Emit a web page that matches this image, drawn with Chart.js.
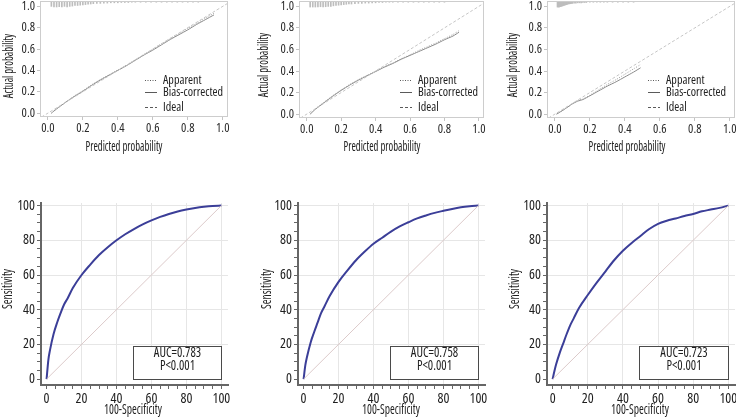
<!DOCTYPE html>
<html>
<head>
<meta charset="utf-8">
<script src="https://cdn.jsdelivr.net/npm/chart.js@4.4.1/dist/chart.umd.min.js"></script>
<style>
  body { margin: 0; background: #fff; width: 736px; height: 418px; position: relative; overflow: hidden; }
  canvas { position: absolute; }
</style>
</head>
<body>
<canvas id="cal1" width="245" height="160" style="left:0;top:0"></canvas>
<canvas id="cal2" width="245" height="160" style="left:245px;top:0"></canvas>
<canvas id="cal3" width="246" height="160" style="left:490px;top:0"></canvas>
<canvas id="roc1" width="245" height="228" style="left:0;top:190px"></canvas>
<canvas id="roc2" width="245" height="228" style="left:245px;top:190px"></canvas>
<canvas id="roc3" width="246" height="228" style="left:490px;top:190px"></canvas>
<script>
// ---- calibration curves (top row) ----
const calTicks = [0, 0.2, 0.4, 0.6, 0.8, 1.0];
const calLegend = ['Apparent', 'Bias-corrected', 'Ideal'];
const calTitles = ['Predicted probability', 'Actual probability'];
const idealLine = [-0.06, 1.07];

const cal1X = [0.02, 0.05, 0.1, 0.15, 0.2, 0.25, 0.3, 0.35, 0.4, 0.45, 0.5, 0.55, 0.6, 0.65, 0.7, 0.75, 0.8, 0.85, 0.9, 0.95];
const app1Y = [0.0, 0.04, 0.1, 0.16, 0.21, 0.265, 0.315, 0.36, 0.405, 0.45, 0.5, 0.55, 0.6, 0.65, 0.7, 0.745, 0.795, 0.84, 0.89, 0.935];
const bc1Y  = [0.0, 0.04, 0.1, 0.155, 0.205, 0.26, 0.31, 0.355, 0.4, 0.445, 0.495, 0.545, 0.59, 0.64, 0.69, 0.735, 0.78, 0.83, 0.875, 0.92];

const cal2X = [0.02, 0.05, 0.1, 0.15, 0.2, 0.25, 0.3, 0.35, 0.4, 0.45, 0.5, 0.55, 0.6, 0.65, 0.7, 0.75, 0.8, 0.85, 0.885];
const app2Y = [0.0, 0.05, 0.11, 0.17, 0.225, 0.275, 0.32, 0.36, 0.4, 0.44, 0.475, 0.515, 0.55, 0.59, 0.625, 0.66, 0.7, 0.74, 0.775];
const bc2Y  = [0.0, 0.045, 0.105, 0.165, 0.22, 0.27, 0.315, 0.355, 0.395, 0.435, 0.47, 0.51, 0.545, 0.58, 0.615, 0.65, 0.69, 0.725, 0.76];

const cal3X = [0.01, 0.05, 0.1, 0.13, 0.16, 0.2, 0.25, 0.3, 0.35, 0.4, 0.45, 0.49];
const app3Y = [0.0, 0.04, 0.095, 0.125, 0.14, 0.175, 0.225, 0.275, 0.32, 0.37, 0.42, 0.46];
const bc3Y  = [0.0, 0.04, 0.095, 0.12, 0.135, 0.17, 0.215, 0.26, 0.3, 0.345, 0.39, 0.43];

// spike histogram of predicted risks along the top (relative heights)
const rug1X = [0.020, 0.035, 0.050, 0.065, 0.080, 0.095, 0.110, 0.125, 0.140, 0.155, 0.170, 0.185, 0.200, 0.215, 0.230, 0.245, 0.260,
  0.28, 0.30, 0.32, 0.34, 0.36, 0.38, 0.40, 0.42, 0.44, 0.46, 0.48, 0.50,
  0.53, 0.56, 0.59, 0.62, 0.65, 0.68, 0.71, 0.74, 0.77, 0.80, 0.83, 0.86];
const rug1H = [0.9, 1, 1, 0.95, 1, 0.9, 1, 0.9, 0.85, 0.75, 0.75, 0.7, 0.65, 0.6, 0.55, 0.5, 0.45,
  0.4, 0.4, 0.35, 0.35, 0.3, 0.3, 0.3, 0.25, 0.25, 0.25, 0.2, 0.2,
  0.2, 0.2, 0.2, 0.2, 0.2, 0.2, 0.2, 0.2, 0.2, 0.2, 0.2, 0.2];

const rug2X = [0.020, 0.035, 0.050, 0.065, 0.080, 0.095, 0.110, 0.125, 0.140, 0.155, 0.170, 0.185, 0.200, 0.215, 0.230, 0.245, 0.260,
  0.28, 0.30, 0.32, 0.34, 0.36, 0.38, 0.40, 0.42, 0.44, 0.46, 0.48, 0.50,
  0.53, 0.56, 0.59, 0.62, 0.65, 0.68, 0.71, 0.74, 0.77, 0.80];
const rug2H = [1, 1, 1, 1, 0.95, 1, 0.95, 0.9, 0.9, 0.8, 0.75, 0.7, 0.65, 0.6, 0.55, 0.5, 0.5,
  0.45, 0.4, 0.4, 0.35, 0.35, 0.3, 0.3, 0.25, 0.25, 0.2, 0.2, 0.2,
  0.2, 0.2, 0.2, 0.2, 0.2, 0.2, 0.2, 0.2, 0.2, 0.2];

const rug3X = [0.015, 0.02, 0.025, 0.03, 0.035, 0.04, 0.045, 0.05, 0.055, 0.06, 0.065, 0.07, 0.075, 0.08, 0.085, 0.09, 0.095, 0.10,
  0.11, 0.12, 0.13, 0.14, 0.15, 0.16, 0.17, 0.18,
  0.20, 0.22, 0.24, 0.26, 0.28, 0.30,
  0.33, 0.36, 0.39, 0.42, 0.45];
const rug3H = [1, 1, 1, 0.95, 0.9, 0.85, 0.8, 0.75, 0.7, 0.65, 0.6, 0.55, 0.5, 0.5, 0.45, 0.45, 0.4, 0.4,
  0.35, 0.35, 0.3, 0.3, 0.3, 0.25, 0.25, 0.25,
  0.2, 0.2, 0.2, 0.2, 0.2, 0.2,
  0.2, 0.2, 0.2, 0.2, 0.2];

// ---- ROC curves (bottom row) ----
const rocTicks = [0, 5, 10, 15, 20, 25, 30, 35, 40, 45, 50, 55, 60, 65, 70, 75, 80, 85, 90, 95, 100];
const rocLabels = [0, 20, 40, 60, 80, 100];
const rocGrid = [20, 40, 60, 80, 100];
const rocTitles = ['100-Specificity', 'Sensitivity'];
const chanceLine = [0, 100];
const rocFpr = [0, 1, 2, 4, 6, 8, 10, 12, 15, 20, 25, 30, 35, 40, 45, 50, 55, 60, 65, 70, 75, 80, 85, 90, 95, 100];
const roc1Y = [0, 11, 17, 26, 32.5, 38, 43, 46.5, 52.5, 60, 66, 71.5, 76, 80, 83.5, 86.5, 89.2, 91.5, 93.5, 95.2, 96.6, 97.7, 98.6, 99.3, 99.8, 100];
const roc2Y = [0, 8, 13, 21, 27, 32.5, 38, 42, 48, 56, 62.5, 68.5, 73.5, 78, 81.5, 85, 88, 90.4, 92.6, 94.3, 95.8, 97, 98.1, 99, 99.6, 100];
const roc3Y = [0, 4.5, 8.5, 15, 20.5, 26, 31, 35, 41, 48.5, 55.5, 62, 68.5, 74, 78.5, 82.5, 86.5, 89.5, 91.3, 92.6, 94, 95.2, 96.7, 97.7, 98.7, 100];
const aucText = [['AUC=0.783', 'P<0.001'], ['AUC=0.758', 'P<0.001'], ['AUC=0.723', 'P<0.001']];
const aucBox = { x: [49.4, 100], y: [0, 19.3] };

// Open Sans in its condensed width stands in for the narrow font of the original
const FAM = "'Open Sans', 'DejaVu Sans Condensed', sans-serif";
const STRETCH = 'normal condensed';
Chart.defaults.font.family = FAM;
Chart.defaults.font.weight = STRETCH;
Chart.defaults.color = '#1e1e1e';
const fontStr = size => STRETCH + ' ' + size + 'px ' + FAM;

const noPad = s => { s.paddingTop = 0; s.paddingBottom = 0; s.paddingLeft = 0; s.paddingRight = 0; };

// text with optional horizontal squeeze (sx) and vertical orientation
function text(ctx, str, x, y, size, sx, rotate) {
  ctx.save();
  ctx.font = fontStr(size);
  ctx.translate(x, y);
  if (rotate) ctx.rotate(-Math.PI / 2);
  ctx.scale(sx, 1);
  ctx.fillText(str, 0, 0);
  ctx.restore();
}

function calDeco(look) {
  const dashes = [[1, 1.5], [], [3, 2]];
  return {
    id: 'calDeco',
    afterDraw(chart) {
      const { ctx, chartArea: a } = chart;
      ctx.save();
      ctx.strokeStyle = '#cdcdcd';
      ctx.lineWidth = 1;
      ctx.strokeRect(Math.round(a.left) + 0.5, Math.round(a.top) + 0.5,
        Math.round(a.right - a.left) - 1, Math.round(a.bottom - a.top) - 1);

      ctx.fillStyle = '#222';
      ctx.textBaseline = 'middle';
      ctx.textAlign = 'left';
      calLegend.forEach((name, i) => {
        const y = Math.round(a.top + look.rows[i]) + 0.5;
        ctx.strokeStyle = '#5a5a5a';
        ctx.setLineDash(dashes[i]);
        ctx.beginPath();
        ctx.moveTo(look.legX, y);
        ctx.lineTo(look.legX + 12, y);
        ctx.stroke();
        ctx.setLineDash([]);
        text(ctx, name, look.legX + 18, y, 13, 0.93);
      });

      ctx.textAlign = 'center';
      text(ctx, calTitles[0], look.xTitle[0], look.xTitle[1], 14, 0.76);
      text(ctx, calTitles[1], look.yTitle[0], look.yTitle[1], 14, 0.76, true);
      ctx.restore();
    }
  };
}

function calChart(id, rugX, rugH, xs, appY, bcY, look) {
  const top = 1.05;
  new Chart(document.getElementById(id), {
    type: 'line',
    data: {
      datasets: [
        { type: 'bar', data: rugX.map((x, i) => ({ x: x, y: [top - rugH[i] * 0.056, top] })),
          backgroundColor: '#bdbdbd', barThickness: 1, grouped: false, borderWidth: 0 },
        { data: idealLine.map(v => ({ x: v, y: v })), borderColor: '#c6c6c6', borderWidth: 1, borderDash: [3, 2] },
        { data: xs.map((x, i) => ({ x: x, y: appY[i] })), borderColor: '#a0a0a0', borderWidth: 1, borderDash: [1, 1.5] },
        { data: xs.map((x, i) => ({ x: x, y: bcY[i] })), borderColor: '#8a8a8a', borderWidth: 1 }
      ]
    },
    options: {
      responsive: false,
      devicePixelRatio: 1,
      animation: false,
      layout: { padding: { left: 0, right: look.padR, top: 1, bottom: 0 } },
      elements: { point: { radius: 0 }, line: { tension: 0.2 } },
      plugins: { legend: { display: false }, tooltip: { enabled: false } },
      scales: {
        x: {
          type: 'linear', min: -0.045, max: 1.03, offset: false,
          afterBuildTicks: s => { s.ticks = calTicks.map(v => ({ value: v })); },
          afterFit: s => { noPad(s); s.height = look.xH; },
          ticks: { autoSkip: false, maxRotation: 0, padding: 1, color: '#2a2a2a', font: { size: 12.5 },
            callback: v => v.toFixed(1) },
          grid: { offset: false, drawOnChartArea: false, tickLength: 3, tickColor: '#c4c4c4' },
          border: { display: false }
        },
        y: {
          type: 'linear', min: -0.036, max: top, beginAtZero: false,
          afterBuildTicks: s => { s.ticks = calTicks.map(v => ({ value: v })); },
          afterFit: s => { noPad(s); s.width = look.yW; },
          ticks: { autoSkip: false, padding: 2, color: '#2a2a2a', font: { size: 12.5 },
            callback: v => v.toFixed(1) },
          grid: { drawOnChartArea: false, tickLength: 3, tickColor: '#c4c4c4' },
          border: { display: false }
        }
      }
    },
    plugins: [calDeco(look)]
  });
}

function rocDeco(look, lines) {
  return {
    id: 'rocDeco',
    afterDatasetsDraw(chart) {
      const { ctx, scales: { x, y } } = chart;
      const l = Math.round(x.getPixelForValue(aucBox.x[0])) + 0.5;
      const r = Math.round(x.getPixelForValue(aucBox.x[1])) + 0.5;
      const t = Math.round(y.getPixelForValue(aucBox.y[1])) + 0.5;
      const b = Math.round(y.getPixelForValue(aucBox.y[0])) + 0.5;
      ctx.save();
      ctx.fillStyle = '#fff';
      ctx.fillRect(l, t, r - l, b - t);
      ctx.strokeStyle = '#4a4a4a';
      ctx.lineWidth = 1;
      ctx.strokeRect(l, t, r - l, b - t);
      ctx.fillStyle = '#1e1e1e';
      ctx.textAlign = 'center';
      ctx.textBaseline = 'middle';
      text(ctx, lines[0], (l + r) / 2, t + 7, 14, 0.9);
      text(ctx, lines[1], (l + r) / 2, t + 19.5, 14, 0.9);
      ctx.restore();
    },
    afterDraw(chart) {
      const ctx = chart.ctx;
      ctx.save();
      ctx.fillStyle = '#1e1e1e';
      ctx.textAlign = 'center';
      ctx.textBaseline = 'middle';
      text(ctx, rocTitles[0], look.xTitle[0], look.xTitle[1], 15, 0.77);
      text(ctx, rocTitles[1], look.yTitle[0], look.yTitle[1], 15, 0.77, true);
      ctx.restore();
    }
  };
}

function rocChart(id, sens, lines, look) {
  const axis = (fit) => ({
    type: 'linear',
    offset: false,
    afterBuildTicks: s => { s.ticks = rocTicks.map(v => ({ value: v })); },
    afterFit: fit,
    ticks: { autoSkip: false, maxRotation: 0, padding: 2, color: '#1e1e1e', font: { size: 14 },
      callback: v => rocLabels.includes(v) ? String(v) : '' },
    grid: {
      color: c => (c.tick && rocGrid.includes(c.tick.value)) ? '#e6e6e6' : 'rgba(0,0,0,0)',
      tickColor: '#666', tickLength: 4, lineWidth: 1
    },
    border: { color: '#666', width: 2 }
  });
  new Chart(document.getElementById(id), {
    type: 'line',
    data: {
      datasets: [
        { data: chanceLine.map(v => ({ x: v, y: v })), borderColor: '#dccaca', borderWidth: 1 },
        { data: rocFpr.map((x, i) => ({ x: x, y: sens[i] })), borderColor: '#3b3e98', borderWidth: 2,
          cubicInterpolationMode: 'monotone' }
      ]
    },
    options: {
      responsive: false,
      devicePixelRatio: 1,
      animation: false,
      layout: { padding: { left: 0, right: look.padR, top: 13, bottom: 0 } },
      elements: { point: { radius: 0 } },
      plugins: { legend: { display: false }, tooltip: { enabled: false } },
      scales: {
        x: Object.assign(axis(s => { noPad(s); s.height = 33; }), { min: -3.2, max: 103.8 }),
        y: Object.assign(axis(s => { noPad(s); s.width = look.yW; }), { min: -3.4, max: 101.5 })
      }
    },
    plugins: [rocDeco(look, lines)]
  });
}

const legRows = [79, 91, 106];
calChart('cal1', rug1X, rug1H, cal1X, app1Y, bc1Y, { yW: 40, padR: 17, xH: 43, legX: 145, rows: legRows, xTitle: [124, 147], yTitle: [9, 66] });
calChart('cal2', rug2X, rug2H, cal2X, app2Y, bc2Y, { yW: 54, padR: 6, xH: 42, legX: 155, rows: legRows, xTitle: [137, 147], yTitle: [19, 65] });
calChart('cal3', rug3X, rug3H, cal3X, app3Y, bc3Y, { yW: 57, padR: 1, xH: 42, legX: 158, rows: legRows, xTitle: [137, 147], yTitle: [23, 65] });

rocChart('roc1', roc1Y, aucText[0], { yW: 41, padR: 17, xTitle: [133, 220], yTitle: [8, 99] });
rocChart('roc2', roc2Y, aucText[1], { yW: 53, padR: 5, xTitle: [146, 220], yTitle: [22, 99] });
rocChart('roc3', roc3Y, aucText[2], { yW: 57, padR: 1, xTitle: [150, 220], yTitle: [25, 99] });
</script>
</body>
</html>
